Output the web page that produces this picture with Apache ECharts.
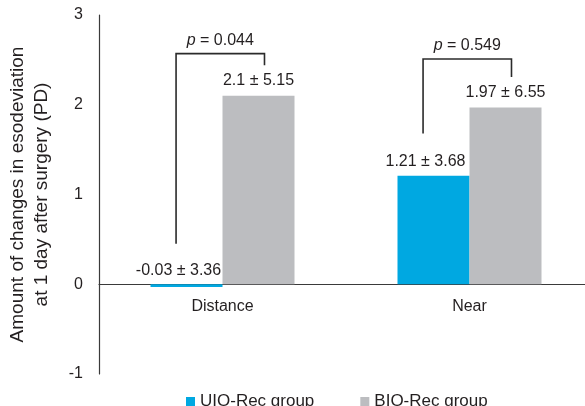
<!DOCTYPE html>
<html>
<head>
<meta charset="utf-8">
<script src="https://cdn.jsdelivr.net/npm/echarts@6/dist/echarts.min.js"></script>
<style>
  html, body { margin: 0; padding: 0; background: #fff; }
  #chart { width: 585px; height: 406px; }
</style>
</head>
<body>
<div id="chart"></div>
<script>
// Categories and group means (± SD shown in labels)
const categories = ['Distance', 'Near'];
const uioMeans = [-0.03, 1.21];
const uioSD = [3.36, 3.68];
const bioMeans = [2.1, 1.97];
const bioSD = [5.15, 6.55];

// Significance brackets: left leg end, bar height, right leg end, p-values
const bracketLeft = [0.45, 1.68];
const bracketTop = [2.57, 2.51];
const bracketRight = [2.44, 2.31];
const pValues = ['0.044', '0.549'];

const yTicks = [-1, 0, 1, 2, 3];

const FONT = '"Liberation Sans", Arial, Helvetica, sans-serif';
const TEXT = '#231f20';
const BLUE = '#00a8e1';
const GREY = '#bcbdc0';

const chart = echarts.init(document.getElementById('chart'), null, { renderer: 'canvas' });

const fmt = (m, sd) => m + ' \u00b1 ' + sd;

const option = {
  animation: false,
  textStyle: { fontFamily: FONT, color: TEXT },
  grid: { left: 99, width: 494, top: 15, bottom: 32, containLabel: false, outerBoundsMode: 'none' },
  legend: {
    data: ['UIO-Rec group', 'BIO-Rec group'],
    left: 181,
    top: 388,
    itemWidth: 9,
    itemHeight: 9,
    itemGap: 46,
    icon: 'rect',
    textStyle: { fontFamily: FONT, fontSize: 17, color: TEXT }
  },
  xAxis: {
    type: 'category',
    data: categories,
    axisLine: { onZero: true, lineStyle: { color: '#3a3a3a', width: 1.2 } },
    axisTick: { show: false },
    axisLabel: { show: false }
  },
  yAxis: {
    type: 'value',
    min: yTicks[0],
    max: yTicks[yTicks.length - 1],
    interval: 1,
    name: 'Amount of changes in esodeviation\nat 1 day after surgery (PD)',
    nameLocation: 'middle',
    nameGap: 45,
    nameTextStyle: { fontFamily: FONT, fontSize: 19, color: TEXT, lineHeight: 24 },
    axisLine: { show: true, lineStyle: { color: '#3a3a3a', width: 1.2 } },
    axisTick: { show: false },
    splitLine: { show: false },
    axisLabel: { fontFamily: FONT, fontSize: 16, color: TEXT, margin: 16 }
  },
  series: [
    {
      name: 'UIO-Rec group',
      type: 'bar',
      data: uioMeans,
      barWidth: 72,
      barGap: '0%',
      itemStyle: { color: BLUE },
      label: {
        show: true,
        position: 'top',
        distance: 6,
        offset: [-8, 0],
        fontFamily: FONT,
        fontSize: 16,
        color: TEXT,
        formatter: p => fmt(uioMeans[p.dataIndex], uioSD[p.dataIndex])
      }
    },
    {
      name: 'BIO-Rec group',
      type: 'bar',
      data: bioMeans,
      barWidth: 72,
      barGap: '0%',
      itemStyle: { color: GREY },
      label: {
        show: true,
        position: 'top',
        distance: 7,
        fontFamily: FONT,
        fontSize: 16,
        color: TEXT,
        formatter: p => fmt(bioMeans[p.dataIndex], bioSD[p.dataIndex])
      }
    },
    {
      // Category names sit just under the zero line; brackets with p-values above
      name: 'annotations',
      type: 'custom',
      silent: true,
      clip: false,
      data: categories.map((c, i) => [i, bracketLeft[i], bracketTop[i], bracketRight[i]]),
      renderItem: function (params, api) {
        const i = api.value(0);
        const zero = api.coord([i, 0]);
        const center = zero[0];
        const bw = api.size([1, 0])[0];
        const xl = center - 0.188 * bw;
        const xr = center + 0.17 * bw;
        const yl = api.coord([i, api.value(1)])[1];
        const yt = api.coord([i, api.value(2)])[1];
        const yr = api.coord([i, api.value(3)])[1];
        return {
          type: 'group',
          children: [
            {
              type: 'polyline',
              shape: { points: [[xl, yl], [xl, yt], [xr, yt], [xr, yr]] },
              style: { stroke: '#2b2b2b', lineWidth: 1.6, fill: null }
            },
            {
              type: 'text',
              style: {
                x: (xl + xr) / 2,
                y: yt - 5,
                text: '{i|p} = ' + pValues[params.dataIndex],
                align: 'center',
                verticalAlign: 'bottom',
                font: '16px ' + FONT,
                fill: TEXT,
                rich: {
                  i: { fontStyle: 'italic', fontSize: 16, fontFamily: FONT, fill: TEXT }
                }
              }
            },
            {
              type: 'text',
              style: {
                x: center,
                y: zero[1] + 14,
                text: categories[params.dataIndex],
                align: 'center',
                verticalAlign: 'top',
                font: '16px ' + FONT,
                fill: TEXT
              }
            }
          ]
        };
      }
    }
  ]
};

chart.setOption(option);
</script>
</body>
</html>
